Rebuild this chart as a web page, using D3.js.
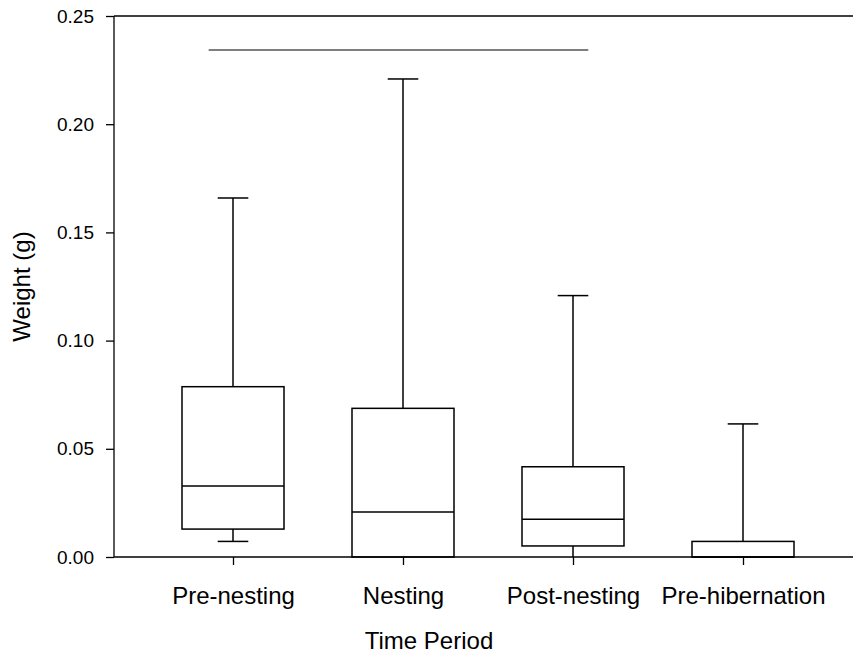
<!DOCTYPE html>
<html>
<head>
<meta charset="utf-8">
<script src="https://cdn.jsdelivr.net/npm/d3@7"></script>
<style>
    body { margin: 0; background: #fff; }
    svg text { font-family: Arial, "Liberation Sans", sans-serif; }
</style>
</head>
<body>
<svg id="chart" width="853" height="656"></svg>
<script>
// =====================
// DATA
// =====================
var periods = ["Pre-nesting", "Nesting", "Post-nesting", "Pre-hibernation"];
var whiskerLow = [0.0072, 0, 0, 0];
var q1 = [0.0129, 0, 0.0051, 0];
var medians = [0.0328, 0.0208, 0.0174, 0];
var q3 = [0.0787, 0.0687, 0.0417, 0.0072];
var whiskerHigh = [0.1659, 0.2209, 0.1208, 0.0615];
var yTicks = [0.00, 0.05, 0.10, 0.15, 0.20, 0.25];

// significance bar (category units, value)
var sigBar = [0.857, 3.09];
var sigY = 0.2343;

// ########
// # MAIN #
// ########
var svg = d3.select("#chart");

var margin = {left: 114, top: 16, bottom: 99};
var width = 853, height = 656;

var x = d3.scaleLinear()
    .domain([0.3, 5.0])
    .range([margin.left, margin.left + 4.7 * 170]);

var y = d3.scaleLinear()
    .domain([0, 0.25])
    .range([height - margin.bottom, margin.top]);

var boxW = 0.6, capW = 0.18;

// y axis
svg.append("g")
    .attr("class", "yaxis")
    .attr("transform", "translate(" + margin.left + ",0)")
    .call(d3.axisLeft(y).tickValues(yTicks).tickFormat(d3.format(".2f")).tickSize(8).tickPadding(12));

// x axis
svg.append("g")
    .attr("class", "xaxis")
    .attr("transform", "translate(0," + y(0) + ")")
    .call(d3.axisBottom(x).tickValues([1, 2, 3, 4]).tickFormat(function (d) {
        return periods[d - 1];
    }).tickSize(8).tickPadding(22));

svg.selectAll(".domain").remove();
svg.selectAll(".tick line").attr("stroke", "#000").attr("stroke-width", 1.3);
svg.selectAll(".tick text").attr("fill", "#000");
svg.selectAll(".yaxis .tick text").attr("font-size", "19px");
svg.selectAll(".xaxis .tick text").attr("font-size", "24px");

// frame lines (top, bottom, left)
svg.append("line")
    .attr("x1", margin.left).attr("x2", width)
    .attr("y1", y(0.25)).attr("y2", y(0.25))
    .attr("stroke", "#000").attr("stroke-width", 1.3);
svg.append("line")
    .attr("x1", margin.left).attr("x2", width)
    .attr("y1", y(0)).attr("y2", y(0))
    .attr("stroke", "#000").attr("stroke-width", 1.3);
svg.append("line")
    .attr("x1", margin.left).attr("x2", margin.left)
    .attr("y1", y(0.25)).attr("y2", y(0))
    .attr("stroke", "#000").attr("stroke-width", 1.3);

// significance bar
svg.append("line")
    .attr("x1", x(sigBar[0])).attr("x2", x(sigBar[1]))
    .attr("y1", y(sigY)).attr("y2", y(sigY))
    .attr("stroke", "#555").attr("stroke-width", 1.5);

// boxes
var boxes = svg.append("g")
    .selectAll("g")
    .data(periods)
    .enter().append("g");

boxes.each(function (d, i) {
    var g = d3.select(this);
    var cx = i + 1;

    // whiskers
    g.append("line")
        .attr("x1", x(cx)).attr("x2", x(cx))
        .attr("y1", y(q3[i])).attr("y2", y(whiskerHigh[i]))
        .attr("stroke", "#000").attr("stroke-width", 1.5);
    g.append("line")
        .attr("x1", x(cx - capW / 2)).attr("x2", x(cx + capW / 2))
        .attr("y1", y(whiskerHigh[i])).attr("y2", y(whiskerHigh[i]))
        .attr("stroke", "#000").attr("stroke-width", 1.5);
    if (q1[i] > whiskerLow[i]) {
        g.append("line")
            .attr("x1", x(cx)).attr("x2", x(cx))
            .attr("y1", y(q1[i])).attr("y2", y(whiskerLow[i]))
            .attr("stroke", "#000").attr("stroke-width", 1.5);
    }
    if (whiskerLow[i] > 0) {
        g.append("line")
            .attr("x1", x(cx - capW / 2)).attr("x2", x(cx + capW / 2))
            .attr("y1", y(whiskerLow[i])).attr("y2", y(whiskerLow[i]))
            .attr("stroke", "#000").attr("stroke-width", 1.5);
    }

    // box
    g.append("rect")
        .attr("x", x(cx - boxW / 2))
        .attr("y", y(q3[i]))
        .attr("width", x(cx + boxW / 2) - x(cx - boxW / 2))
        .attr("height", y(q1[i]) - y(q3[i]))
        .attr("fill", "none")
        .attr("stroke", "#000").attr("stroke-width", 1.5);

    // median
    g.append("line")
        .attr("x1", x(cx - boxW / 2)).attr("x2", x(cx + boxW / 2))
        .attr("y1", y(medians[i])).attr("y2", y(medians[i]))
        .attr("stroke", "#000").attr("stroke-width", 1.5);
});

// axis titles
svg.append("text")
    .attr("x", 429)
    .attr("y", 649)
    .attr("text-anchor", "middle")
    .attr("font-size", "24px")
    .text("Time Period");

svg.append("text")
    .attr("transform", "translate(30," + y(0.125) + ") rotate(-90)")
    .attr("text-anchor", "middle")
    .attr("font-size", "24px")
    .text("Weight (g)");
</script>
</body>
</html>
